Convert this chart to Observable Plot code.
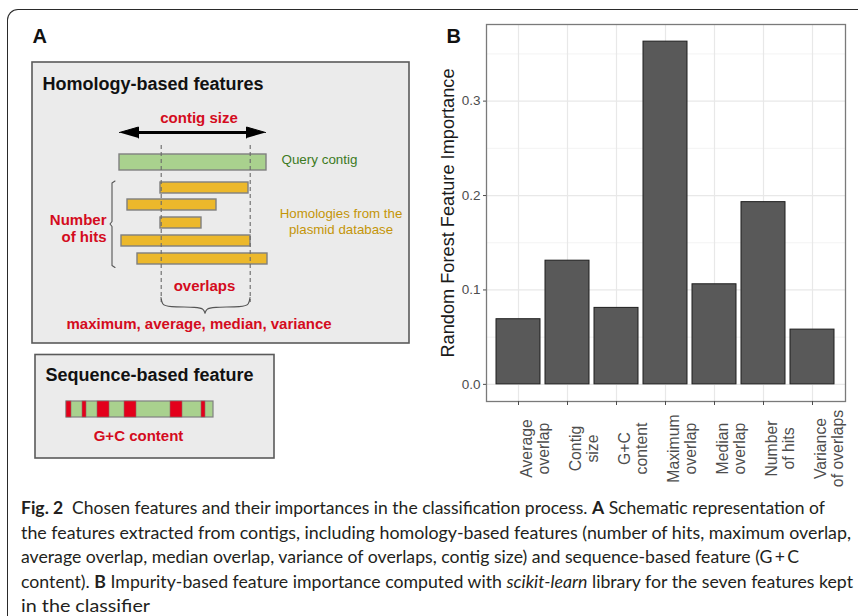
<!DOCTYPE html>
<html>
<head>
<meta charset="utf-8">
<script src="https://cdn.jsdelivr.net/npm/d3@7"></script>
<script src="https://cdn.jsdelivr.net/npm/@observablehq/plot@0.6"></script>
<style>
  html, body { margin: 0; padding: 0; background: #fff; }
  #page { position: relative; width: 858px; height: 616px; overflow: hidden; background: #fff; }
  #frame { position: absolute; left: 7px; top: 9px; width: 900px; height: 700px;
           border-left: 1.3px solid #2a2a2a; border-top: 1.3px solid #2a2a2a; border-top-left-radius: 11px; }
  #panelA { position: absolute; left: 0; top: 0; }
  #panelB { position: absolute; left: 430px; top: 0; }
  #caption { position: absolute; left: 21px; top: 496px; font-family: Lato, "Open Sans", sans-serif;
             font-size: 16.5px; line-height: 24.5px; color: #231f20; white-space: nowrap; }
  #caption span { display: inline-block; transform-origin: 0 50%; }
</style>
</head>
<body>
<div id="page">
  <div id="frame"></div>
  <div id="panelA"></div>
  <div id="panelB"></div>
  <div id="caption">
    <div><span id="l1"><b>Fig. 2</b>&ensp;Chosen features and their importances in the classification process. <b>A</b> Schematic representation of</span></div>
    <div><span id="l2">the features extracted from contigs, including homology-based features (number of hits, maximum overlap,</span></div>
    <div><span id="l3">average overlap, median overlap, variance of overlaps, contig size) and sequence-based feature (G&thinsp;+&thinsp;C</span></div>
    <div><span id="l4">content). <b>B</b> Impurity-based feature importance computed with <i>scikit-learn</i> library for the seven features kept</span></div>
    <div><span id="l5">in the classifier</span></div>
  </div>
</div>
<script>
// ---------------- Panel B data ----------------
const features = ["Average\noverlap", "Contig\nsize", "G+C\ncontent", "Maximum\noverlap",
                  "Median\noverlap", "Number\nof hits", "Variance\nof overlaps"];
const importance = [0.069, 0.131, 0.081, 0.363, 0.106, 0.193, 0.058];
const yTicks = [0, 0.1, 0.2, 0.3];
const yMinorTicks = [0.05, 0.15, 0.25, 0.35];
const yTitle = "Random Forest Feature Importance";

// ---------------- Panel A schematic data (diagram units) ----------------
const contig = [{x1: 119, x2: 266, y1: 154, y2: 170}];
const hitStarts = [160, 127, 160, 121, 137];
const hitEnds   = [248, 216, 201, 250, 267];
const hitTops   = [182, 199, 217, 235, 253];
const overlapBounds = [160.7, 249.7];
const gcSegStarts = [66, 82, 97, 124, 170, 201];
const gcSegEnds   = [71, 86, 109, 136, 182, 205];

// caption line right-edge targets (page px)
const captionLineEnds = [825, 851, 799, 853, 150];

const RED = "#d40b20";
const FONT = "'Liberation Sans', Arial, Helvetica, sans-serif";

// ---------- Panel A ----------
const hits = hitStarts.map((s, i) => ({x1: s, x2: hitEnds[i], y1: hitTops[i], y2: hitTops[i] + 11}));
const gcSegs = gcSegStarts.map((s, i) => ({x1: s, x2: gcSegEnds[i], y1: 401, y2: 417}));
const arrowHeads = [
  {id: "l", x: 119, y: 132}, {id: "l", x: 138, y: 126.5}, {id: "l", x: 138, y: 137.5},
  {id: "r", x: 265, y: 132}, {id: "r", x: 246, y: 126.5}, {id: "r", x: 246, y: 137.5}
];
const brace = [
  {id: "a", x: 160.5, y: 297}, {id: "a", x: 161.5, y: 304}, {id: "a", x: 167, y: 306.5}, {id: "a", x: 198, y: 306.5}, {id: "a", x: 203, y: 308.5}, {id: "a", x: 204.5, y: 312.5},
  {id: "b", x: 249.5, y: 297}, {id: "b", x: 248.5, y: 304}, {id: "b", x: 243, y: 306.5}, {id: "b", x: 211, y: 306.5}, {id: "b", x: 206, y: 308.5}, {id: "b", x: 204.5, y: 312.5}
];
const hitBracket = [
  {x: 114.5, y: 180.5}, {x: 111.5, y: 182.5}, {x: 111.5, y: 221}, {x: 109.5, y: 223.5},
  {x: 111.5, y: 226}, {x: 111.5, y: 265}, {x: 114.5, y: 267}
];

function label(txt, x, baseline, size, weight, color, anchor) {
  return Plot.text([txt], {x: () => x, y: () => baseline - 0.32 * size, text: d => d,
    fontSize: size, fontWeight: weight, fill: color, textAnchor: anchor, lineAnchor: "middle", fontFamily: FONT});
}

const plotA = Plot.plot({
  width: 430, height: 470, margin: 0,
  x: {domain: [0, 430], range: [0, 430], axis: null},
  y: {domain: [0, 470], range: [0, 470], axis: null},
  style: {background: "transparent", fontFamily: FONT},
  marks: [
    Plot.rect([{x1: 32, x2: 409, y1: 62, y2: 343}, {x1: 35, x2: 274, y1: 354.5, y2: 458}],
      {x1: "x1", x2: "x2", y1: "y1", y2: "y2", fill: "#ebebeb", stroke: "#5a5a5a", strokeWidth: 1.6}),
    label("A", 32, 42.5, 20, "bold", "#111", "start"),
    label("Homology-based features", 42, 89, 18, "bold", "#111", "start"),
    label("contig size", 198.5, 122, 15, "bold", RED, "middle"),
    Plot.ruleY([132], {x1: 128, x2: 256, stroke: "#000", strokeWidth: 2.8}),
    Plot.line(arrowHeads, {x: "x", y: "y", z: "id", fill: "#000", stroke: "#000", strokeWidth: 1}),
    Plot.rect(contig, {x1: "x1", x2: "x2", y1: "y1", y2: "y2", fill: "#a9d18e", stroke: "#808080", strokeWidth: 1.4}),
    label("Query contig", 281, 163, 13.4, "normal", "#3c7a23", "start"),
    Plot.rect(hits, {x1: "x1", x2: "x2", y1: "y1", y2: "y2", fill: "#ecb82b", stroke: "#7f7f7f", strokeWidth: 1.4}),
    Plot.ruleX(overlapBounds, {y1: 145, y2: 302, stroke: "#6a6a6a", strokeWidth: 1.1, strokeDasharray: "4,3"}),
    Plot.line(hitBracket, {x: "x", y: "y", stroke: "#555", strokeWidth: 1.1}),
    label("Number", 106, 224, 15, "bold", RED, "end"),
    label("of hits", 106, 241, 15, "bold", RED, "end"),
    label("Homologies from the", 340.5, 217, 13.3, "normal", "#c49508", "middle"),
    label("plasmid database", 340.5, 233, 13.3, "normal", "#c49508", "middle"),
    label("overlaps", 204, 290, 15, "bold", RED, "middle"),
    Plot.line(brace, {x: "x", y: "y", z: "id", stroke: "#555", strokeWidth: 1.1, curve: "basis"}),
    label("maximum, average, median, variance", 66, 328, 15, "bold", RED, "start"),
    label("Sequence-based feature", 45, 380, 18, "bold", "#111", "start"),
    Plot.rect([{x1: 66, x2: 213, y1: 401, y2: 417}], {x1: "x1", x2: "x2", y1: "y1", y2: "y2", fill: "#a9d18e", stroke: "#808080", strokeWidth: 1.2}),
    Plot.rect(gcSegs, {x1: "x1", x2: "x2", y1: "y1", y2: "y2", fill: "#e3001b", stroke: "#8a6a6a", strokeWidth: 0.6}),
    label("G+C content", 138, 440, 15, "bold", RED, "middle")
  ]
});
document.getElementById("panelA").append(plotA);

// ---------- Panel B ----------
const data = features.map((f, i) => ({feature: f, importance: importance[i]}));
const maxV = d3.max(importance);
const pad = 0.05 * maxV;

const plotB = Plot.plot({
  width: 428, height: 490,
  marginLeft: 56, marginRight: 13, marginTop: 24, marginBottom: 89,
  style: {background: "transparent", fontFamily: FONT},
  x: {type: "band", domain: features, paddingInner: 0.1, paddingOuter: 0.15, axis: null},
  y: {domain: [-pad, maxV + pad], axis: null},
  marks: [
    Plot.gridY({ticks: yMinorTicks, stroke: "#eeeeee", strokeOpacity: 1, strokeWidth: 0.7}),
    Plot.gridY({ticks: yTicks, stroke: "#e8e8e8", strokeOpacity: 1, strokeWidth: 1.2}),
    Plot.gridX({ticks: features, stroke: "#e8e8e8", strokeOpacity: 1, strokeWidth: 1.2}),
    Plot.barY(data, {x: "feature", y1: 0, y2: "importance", fill: "#595959", stroke: "#1e1e1e", strokeWidth: 1}),
    Plot.frame({stroke: "#7a7a7a", strokeWidth: 1.3}),
    Plot.axisY({ticks: yTicks, tickFormat: d3.format(".1f"), tickSize: 3, tickPadding: 3,
      fontSize: 13.5, color: "#4d4d4d", label: null}),
    Plot.axisX({ticks: features, tickSize: 4, tickFormat: () => "", color: "#4d4d4d", label: null}),
    Plot.text(features, {x: d => d, text: d => d, frameAnchor: "bottom", rotate: -90,
      textAnchor: "middle", lineAnchor: "top", dy: 47, dx: 1, fontSize: 15.8, lineHeight: 1.1, fill: "#4d4d4d"}),
    Plot.text([yTitle], {text: d => d, frameAnchor: "left", rotate: -90, dx: -38, fontSize: 18.2,
      lineAnchor: "middle", textAnchor: "middle", fill: "#1a1a1a"}),
    Plot.text(["B"], {text: d => d, frameAnchor: "top-left", dx: -40, dy: 12.3, fontSize: 20,
      fontWeight: "bold", textAnchor: "start", lineAnchor: "middle", fill: "#111"})
  ]
});
document.getElementById("panelB").append(plotB);

// ---------- Caption sizing: each line stretched to the reference line end ----------
["l1", "l2", "l3", "l4", "l5"].forEach((id, i) => {
  const el = document.getElementById(id);
  const w = el.getBoundingClientRect().width;
  el.style.transform = `scaleX(${(captionLineEnds[i] - 21) / w})`;
});
</script>
</body>
</html>
